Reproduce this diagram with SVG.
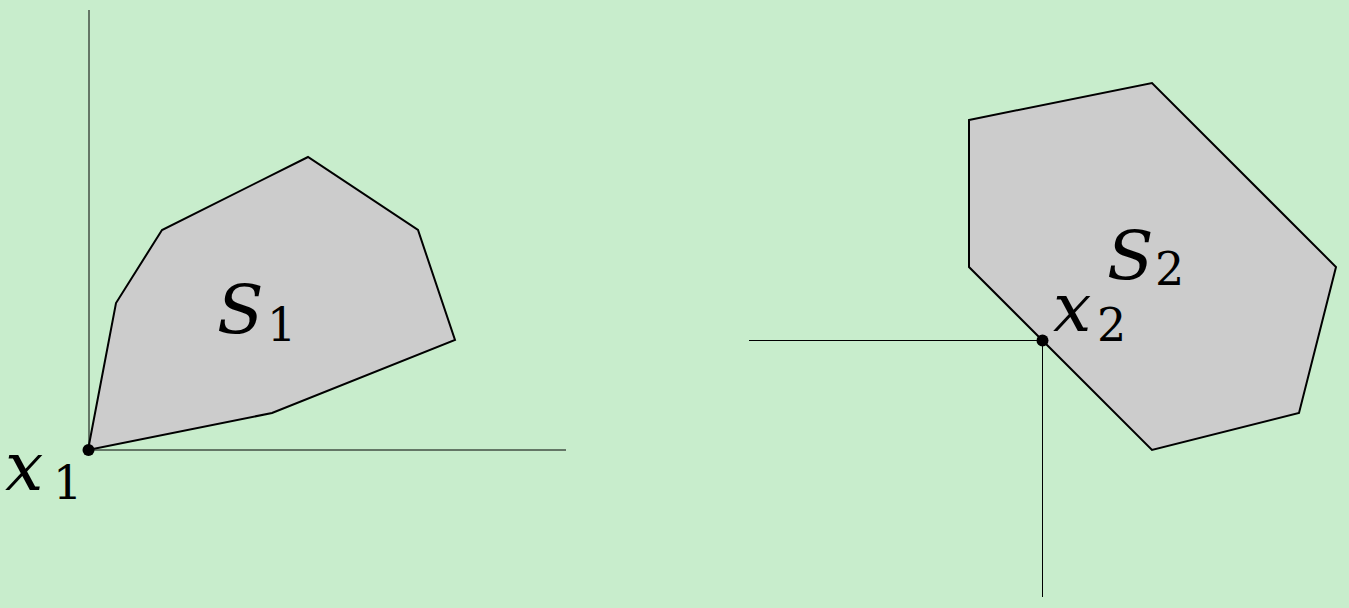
<svg xmlns="http://www.w3.org/2000/svg" width="1349" height="608" viewBox="0 0 1349 608">
<style>
.axis{stroke:#000;stroke-width:1;fill:none}
.set{fill:#cccccc;stroke:#000;stroke-width:2;stroke-linejoin:miter}
.var{font-family:'DejaVu Serif',serif;font-style:italic;font-size:68px;fill:#000}
.sub{font-family:'DejaVu Serif',serif;font-size:46px;fill:#000}
.pt{fill:#000}
</style>
<rect width="1349" height="608" fill="#c8edcc"/>
<g id="axes">
<line class="axis" x1="89" y1="10" x2="89" y2="450"/>
<line class="axis" x1="89" y1="450" x2="566" y2="450"/>
<line class="axis" x1="749" y1="340.5" x2="1042" y2="340.5"/>
<line class="axis" x1="1042.5" y1="340" x2="1042.5" y2="597"/>
</g>
<g id="S1">
<polygon class="set" points="88,450 116,303 162,230 308,157 418,230 455,340 272,413"/>
<text class="var" x="217" y="333">S</text><text class="sub" x="267" y="341">1</text>
</g>
<g id="S2">
<polygon class="set" points="969,120 1152,83 1336,267 1299,413 1152,450 969,267"/>
<text class="var" x="1107" y="279">S</text><text class="sub" x="1155" y="285">2</text>
</g>
<g id="x1">
<circle class="pt" cx="88.5" cy="450" r="6"/>
<text class="var" x="5" y="490">x</text><text class="sub" x="53" y="499">1</text>
</g>
<g id="x2">
<circle class="pt" cx="1042.5" cy="340.5" r="6"/>
<text class="var" x="1053" y="331">x</text><text class="sub" x="1097" y="341">2</text>
</g>
</svg>
